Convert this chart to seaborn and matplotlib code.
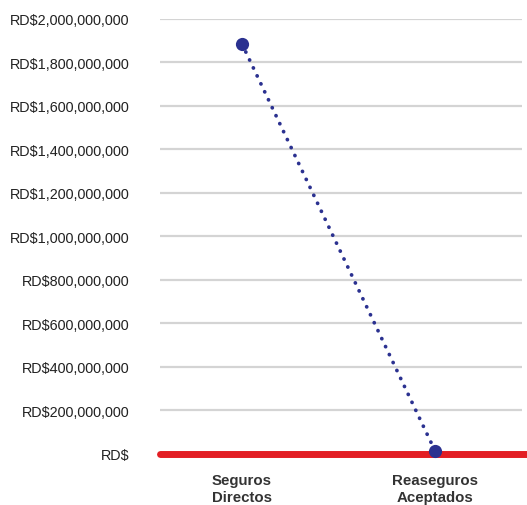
import pandas as pd
import numpy as np
import matplotlib.pyplot as plt
import matplotlib.ticker as mticker
import seaborn as sns

categorias = ['Seguros\nDirectos', 'Reaseguros\nAceptados']
primas = [1_883_000_000, 15_000_000]
y_ticks = np.arange(0, 2_000_000_001, 200_000_000)

df = pd.DataFrame({'categoria': categorias, 'prima': primas})

sns.set_style('white')
plt.rcParams['font.family'] = ['Liberation Sans', 'DejaVu Sans']

fig = plt.figure(figsize=(5.27, 5.06), dpi=100)
ax = fig.add_axes([160 / 527, 51 / 506, 362 / 527, 435.5 / 506])

azul = '#2b3190'
sns.lineplot(data=df, x='categoria', y='prima', ax=ax, color=azul,
             marker='o', markersize=9.5, markeredgewidth=0, linewidth=2.7,
             linestyle=(0, (0.05, 2.3)), sort=False)
for ln in ax.get_lines():
    ln.set_dash_capstyle('round')
    ln.set_zorder(5)
    ln.set_clip_on(False)

# linea base roja
ax.axhline(0, color='#e31e24', linewidth=5, zorder=3, clip_on=False,
           xmin=0, xmax=1.014)

ax.set_ylim(0, 2_000_000_000)
ax.set_xlim(-0.425, 1.451)
ax.set_yticks(y_ticks)
ax.yaxis.set_major_formatter(mticker.FuncFormatter(
    lambda v, p: 'RD$' if v == 0 else f'RD${v:,.0f}'))
ax.grid(axis='y', color='#d4d4d4', linewidth=1.6, zorder=0)
ax.grid(axis='x', visible=False)
sns.despine(ax=ax, left=True, bottom=True)

ax.tick_params(axis='y', length=0, pad=22, labelsize=10.4, labelcolor='#222222')
ax.tick_params(axis='x', length=0, pad=14, labelsize=10.8, labelcolor='#333333')
for t in ax.get_xticklabels():
    t.set_fontweight('bold')
ax.set_xlabel('')
ax.set_ylabel('')

fig.savefig('out.png', dpi=100)
